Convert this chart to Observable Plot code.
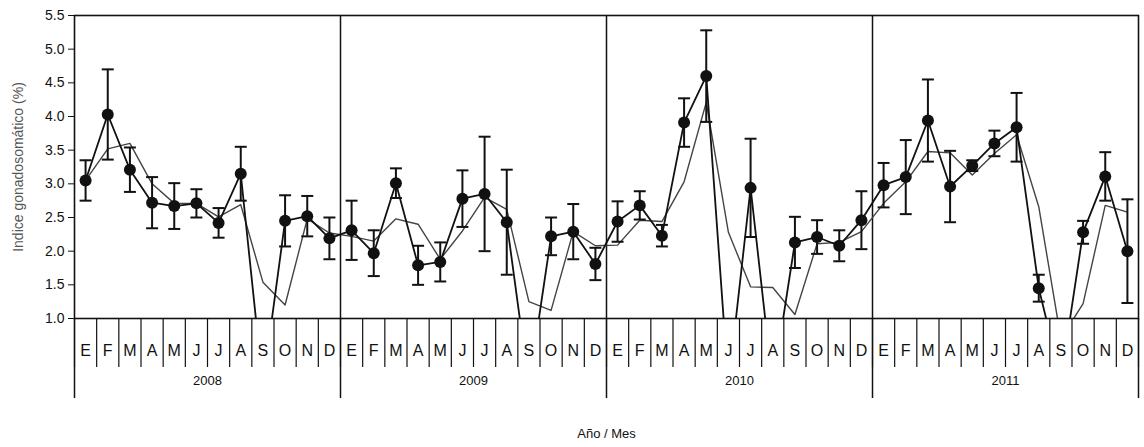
<!DOCTYPE html>
<html>
<head>
<meta charset="utf-8">
<script src="https://cdn.jsdelivr.net/npm/d3@7"></script>
<script src="https://cdn.jsdelivr.net/npm/@observablehq/plot@0.6"></script>
<style>
  html, body { margin: 0; padding: 0; background: #fff; }
  #chart svg { display: block; }
</style>
</head>
<body>
<div id="chart"></div>
<script>
// ---- Data ----
const months = ["E","F","M","A","M","J","J","A","S","O","N","D"];
const years = ["2008","2009","2010","2011"];
const yTicks = [1.0, 1.5, 2.0, 2.5, 3.0, 3.5, 4.0, 4.5, 5.0, 5.5];

// Monthly mean gonadosomatic index (black line with dots); 0 = no sample
const igsMean = [
  3.05, 4.03, 3.21, 2.72, 2.67, 2.71, 2.42, 3.15, 0,    2.45, 2.52, 2.19,
  2.31, 1.97, 3.01, 1.79, 1.84, 2.78, 2.85, 2.43, 0,    2.22, 2.29, 1.81,
  2.44, 2.68, 2.23, 3.91, 4.60, 0,    2.94, 0,    2.13, 2.21, 2.08, 2.46,
  2.98, 3.10, 3.94, 2.96, 3.27, 3.60, 3.84, 1.45, 0.1,  2.28, 3.11, 2.00
];
// Error (half-length of the error bars)
const igsErr = [
  0.30, 0.67, 0.33, 0.38, 0.34, 0.21, 0.22, 0.40, null, 0.38, 0.30, 0.31,
  0.44, 0.34, 0.22, 0.29, 0.29, 0.42, 0.85, 0.78, null, 0.28, 0.41, 0.24,
  0.30, 0.21, 0.16, 0.36, 0.68, null, 0.73, null, 0.38, 0.25, 0.23, 0.43,
  0.33, 0.55, 0.61, 0.53, 0.08, 0.19, 0.51, 0.20, null, 0.17, 0.36, 0.77
];
// Second series (thin line without markers)
const igsThin = [
  3.05, 3.52, 3.60, 3.00, 2.71, 2.71, 2.51, 2.69, 1.54, 1.20, 2.48, 2.27,
  2.22, 2.15, 2.48, 2.40, 1.88, 2.30, 2.80, 2.62, 1.25, 1.12, 2.29, 2.08,
  2.09, 2.46, 2.44, 3.03, 4.21, 2.28, 1.47, 1.46, 1.06, 2.11, 2.13, 2.29,
  2.71, 3.03, 3.48, 3.46, 3.13, 3.45, 3.73, 2.66, 0.70, 1.22, 2.68, 2.58
];

// ---- Build table ----
const nMonths = years.length * months.length;
const data = igsMean.map((m, i) => ({ x: i + 0.5, m, se: igsErr[i], t: igsThin[i] }));
const withErr = data.filter(d => d.se != null);
const monthEdges = d3.range(0, nMonths + 1);
const yearEdges = d3.range(0, nMonths + 1, months.length);
const monthCenters = d3.range(nMonths).map(i => i + 0.5);
const yearCenters = years.map((y, k) => k * months.length + months.length / 2);

const font = "'Liberation Sans Narrow', 'Liberation Sans', Arial, sans-serif";
const ink = "#111";

const chart = Plot.plot({
  width: 1144,
  height: 447,
  marginTop: 15,
  marginLeft: 74,
  marginRight: 6,
  marginBottom: 129,
  style: { fontFamily: font, background: "#fff", color: ink },
  x: { domain: [0, nMonths], axis: null },
  y: { domain: [1, 5.5], axis: null },
  marks: [
    // y axis
    Plot.axisY(yTicks, { tickSize: 6, tickPadding: 4, tickFormat: d3.format(".1f"), fontSize: 14, label: null, stroke: ink, fill: ink }),
    Plot.text(["Indice gonadosomático (%)"], { frameAnchor: "left", textAnchor: "middle", dx: -56, rotate: -90, fontSize: 14, fill: "#555" }),
    // year separators through the plot
    Plot.ruleX(yearEdges.slice(1, -1), { stroke: ink, strokeWidth: 1.5 }),
    // month / year table below the axis
    Plot.axisX(monthEdges, { tickSize: 49, tickFormat: () => "", label: null, stroke: ink, strokeWidth: 1.2 }),
    Plot.axisX(yearEdges, { tickSize: 80, tickFormat: () => "", label: null, stroke: ink, strokeWidth: 1.5 }),
    Plot.axisX(monthCenters, { tickSize: 0, tickPadding: 26, tickFormat: v => months[Math.floor(v) % months.length], fontSize: 16, label: null, fill: ink }),
    Plot.axisX(yearCenters, { tickSize: 0, tickPadding: 57, tickFormat: v => years[Math.floor(v / months.length)], fontSize: 13, label: null, fill: ink }),
    Plot.text(["Año / Mes"], { frameAnchor: "bottom", dy: 119, fontSize: 13, fill: ink }),
    // series
    Plot.line(data, { x: "x", y: "t", stroke: "#444", strokeWidth: 1.4, clip: true }),
    Plot.line(data, { x: "x", y: "m", stroke: ink, strokeWidth: 1.8, clip: true }),
    Plot.ruleX(withErr, { x: "x", y1: d => d.m - d.se, y2: d => d.m + d.se, stroke: ink, strokeWidth: 2 }),
    Plot.link(withErr, { x1: d => d.x - 0.27, x2: d => d.x + 0.27, y1: d => d.m + d.se, y2: d => d.m + d.se, stroke: ink, strokeWidth: 2 }),
    Plot.link(withErr, { x1: d => d.x - 0.27, x2: d => d.x + 0.27, y1: d => d.m - d.se, y2: d => d.m - d.se, stroke: ink, strokeWidth: 2 }),
    Plot.dot(data, { x: "x", y: "m", r: 6, fill: ink, stroke: null, clip: true }),
    Plot.frame({ stroke: ink, strokeWidth: 1.6 })
  ]
});
document.getElementById("chart").appendChild(chart);
</script>
</body>
</html>
